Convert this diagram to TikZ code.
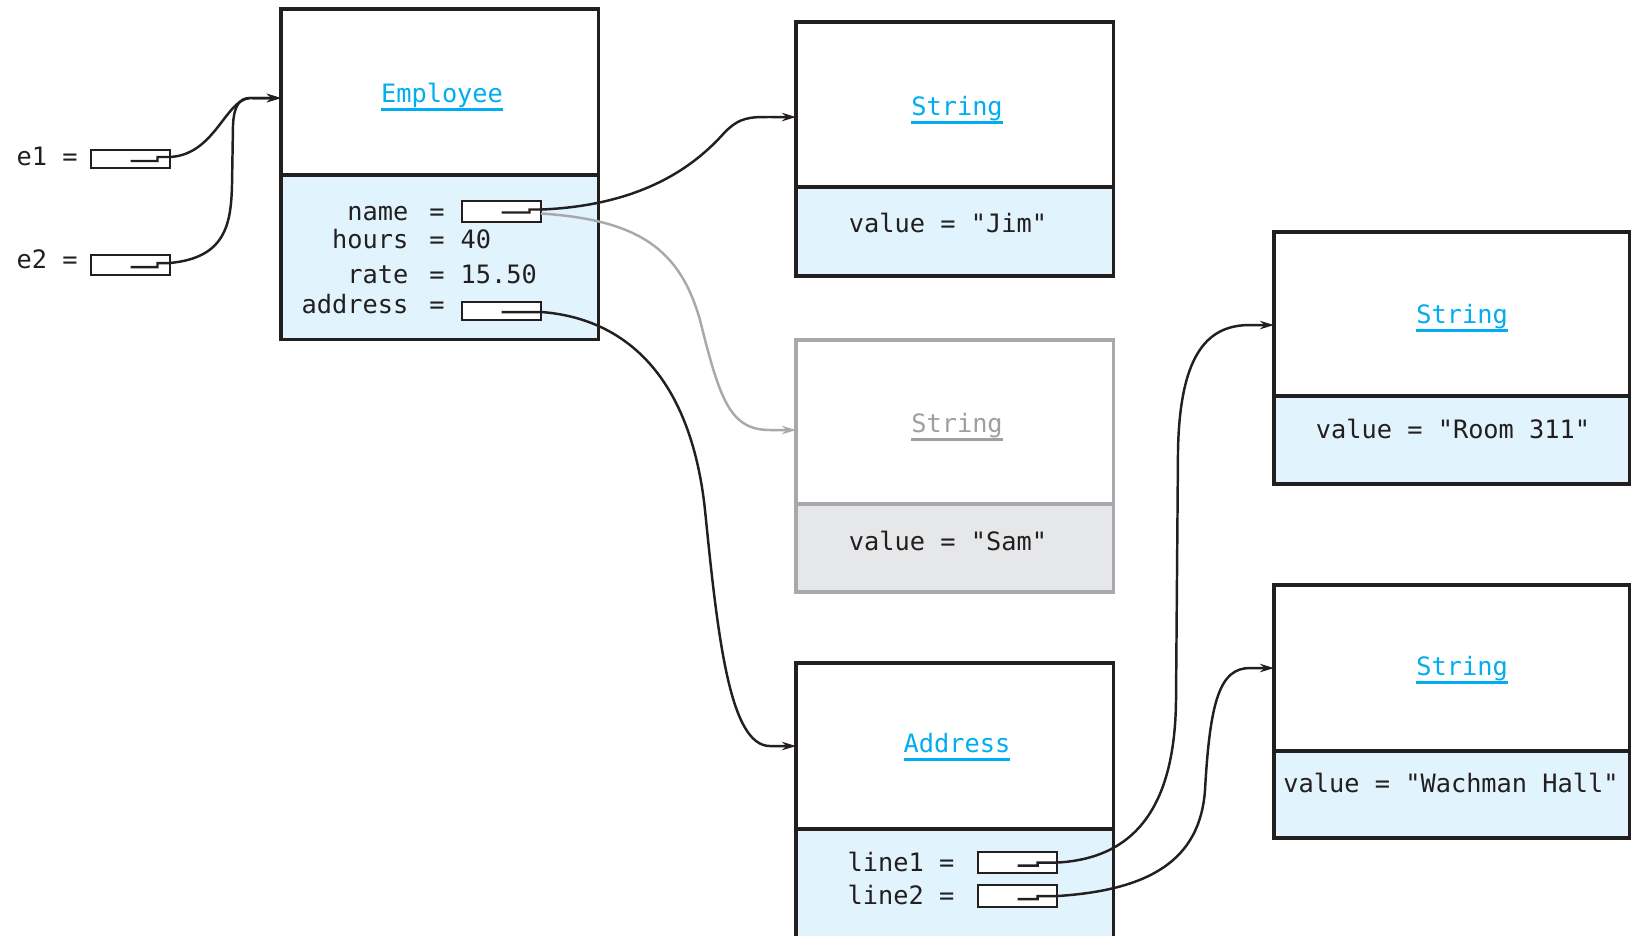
\documentclass[tikz,border=0pt]{standalone}
\usepackage{fontspec}
\newfontfamily\objfont{DejaVu Sans Mono}
\usetikzlibrary{arrows.meta,calc}
\definecolor{ink}{HTML}{231F20}
\definecolor{fieldblue}{HTML}{E1F3FD}
\definecolor{classcyan}{HTML}{00AEEF}
\definecolor{ghost}{HTML}{A7A9AC}
\definecolor{ghostfill}{HTML}{E6E7E8}
\definecolor{ghosttext}{HTML}{9D9FA2}
% class name with a rule underneath at a fixed depth
\newcommand\classname[1]{\vtop{\hbox{\vphantom{gy}#1}\kern0.2pt\hrule height 0.8pt}}
\begin{document}
\begin{tikzpicture}[x=0.01cm, y=-0.01cm,
  font=\objfont\fontsize{7.2}{8.6}\selectfont,
  objtop/.style={draw=ink, fill=white, line width=0.9pt, inner sep=0pt, outer sep=0pt, anchor=north west},
  objbot/.style={objtop, fill=fieldblue},
  oldtop/.style={objtop, draw=ghost},
  oldbot/.style={objtop, draw=ghost, fill=ghostfill},
  refbox/.style={draw=ink, fill=white, line width=0.8pt, minimum width=0.79cm, minimum height=0.2cm, inner sep=0pt, outer sep=0pt},
  txt/.style={inner sep=0pt, anchor=base, text=ink},
  txtr/.style={txt, anchor=base east},
  txtl/.style={txt, anchor=base west},
  title/.style={txt, text=classcyan},
  oldtitle/.style={txt, text=ghosttext},
  link/.style={draw=ink, line width=0.7pt, -{Stealth[length=4pt,width=2.4pt]}},
  oldlink/.style={link, draw=ghost}]

\useasboundingbox (0,0) rectangle (1631,935);
\clip (0,0) rectangle (1631,935);

% ---------- Employee object ----------
\node[objtop, minimum width=3.17cm, minimum height=1.66cm] (emptop) at (281,9) {};
\node[objbot, minimum width=3.17cm, minimum height=1.64cm] (empbot) at (281,175) {};
\node[title] (emptitle) at (442,102) {\classname{Employee}};
\node[txtr] (fname) at (409,220) {name};
\node[txt]  (eqname) at (437,220) {=};
\node[txtr] (fhours) at (409,248) {hours};
\node[txt]  (eqhours) at (437,248) {=};
\node[txtl] (vhours) at (460,248) {40};
\node[txtr] (frate) at (409,283) {rate};
\node[txt]  (eqrate) at (437,283) {=};
\node[txtl] (vrate) at (460,283) {15.50};
\node[txtr] (faddr) at (409,313) {address};
\node[txt]  (eqaddr) at (437,313) {=};
\node[refbox, minimum height=0.21cm] (nameb) at (501.5,211.5) {};
\node[refbox, minimum height=0.18cm] (addrb) at (501.5,311) {};

% ---------- references e1, e2 ----------
\node[txtl] (e1lab) at (16,165) {e1 =};
\node[txtl] (e2lab) at (16,268) {e2 =};
\node[refbox, minimum height=0.18cm] (e1b) at (130.5,159) {};
\node[refbox, minimum height=0.20cm] (e2b) at (130.5,265) {};

% ---------- String "Jim" ----------
\node[objtop, minimum width=3.17cm, minimum height=1.65cm] (jimtop) at (796,22) {};
\node[objbot, minimum width=3.17cm, minimum height=0.89cm] (jimbot) at (796,187) {};
\node[title] (jimtitle) at (957,115) {\classname{String}};
\node[txt] (jimval) at (948,232) {value = "Jim"};

% ---------- String "Sam" (no longer referenced) ----------
\node[oldtop, minimum width=3.17cm, minimum height=1.64cm] (samtop) at (796,340) {};
\node[oldbot, minimum width=3.17cm, minimum height=0.88cm] (sambot) at (796,504) {};
\node[oldtitle] (samtitle) at (957,432) {\classname{String}};
\node[txt] (samval) at (948,550) {value = "Sam"};

% ---------- Address object ----------
\node[objtop, minimum width=3.17cm, minimum height=1.66cm] (addrtop) at (796,663) {};
\node[objbot, minimum width=3.17cm, minimum height=1.40cm] (addrbot) at (796,829) {};
\node[title] (addrtitle) at (957,752) {\classname{Address}};
\node[txtr] (fline1) at (955,871) {line1 =};
\node[txtr] (fline2) at (955,904) {line2 =};
\node[refbox, minimum height=0.21cm] (l1b) at (1017.5,862.5) {};
\node[refbox, minimum height=0.22cm] (l2b) at (1017.5,896) {};

% ---------- String "Room 311" ----------
\node[objtop, minimum width=3.55cm, minimum height=1.64cm] (roomtop) at (1274,232) {};
\node[objbot, minimum width=3.55cm, minimum height=0.88cm] (roombot) at (1274,396) {};
\node[title] (roomtitle) at (1462,323) {\classname{String}};
\node[txt] (roomval) at (1453,438) {value = "Room 311"};

% ---------- String "Wachman Hall" ----------
\node[objtop, minimum width=3.55cm, minimum height=1.66cm] (wachtop) at (1274,585) {};
\node[objbot, minimum width=3.55cm, minimum height=0.87cm] (wachbot) at (1274,751) {};
\node[title] (wachtitle) at (1462,675) {\classname{String}};
\node[txt] (wachval) at (1451,792) {value = "Wachman Hall"};

% ---------- arrow targets ----------
\coordinate (empin)  at ($(emptop.west)+(0,6)$);
\coordinate (jimin)  at ($(jimtop.west)+(0,12.5)$);
\coordinate (samin)  at ($(samtop.west)+(0,8)$);
\coordinate (addrin) at (addrtop.west);
\coordinate (roomin) at ($(roomtop.west)+(0,11)$);
\coordinate (wachin) at (wachtop.west);

% ---------- references ----------
\draw[link] ($(e1b.center)+(0,2)$) -- ++(27,0) -- ++(0,-4) -- ++(12,0)
  .. controls (215,155) and (225,100) .. (250,98) -- (empin);
\draw[link] ($(e2b.center)+(0,2)$) -- ++(27,0) -- ++(0,-4) -- ++(12,0)
  .. controls (225,258) and (231,225) .. (232,185) -- (233,125)
  .. controls (234,105) and (240,98) .. (250,98) -- (empin);

\draw[oldlink] ($(nameb.east)+(0,2)$)
  .. controls (640,220) and (680,250) .. (700,320)
  .. controls (720,400) and (730,430) .. (770,430) -- (samin);
\draw[link] ($(nameb.center)+(0,1)$) -- ++(28,0) -- ++(0,-3) -- ++(12,0)
  .. controls (650,205) and (700,160) .. (725,132)
  .. controls (740,117) and (750,117) .. (770,117) -- (jimin);

\draw[link] ($(addrb.center)+(0,1)$) -- ++(40,0)
  .. controls (620,318) and (690,370) .. (705,510)
  .. controls (718,640) and (730,746) .. (770,746) -- (addrin);

\draw[link] ($(l1b.center)+(0,3)$) -- ++(20,0) -- ++(0,-3) -- ++(20,0)
  .. controls (1140,858) and (1175,800) .. (1176,700) -- (1178,450)
  .. controls (1180,350) and (1210,325) .. (1250,325) -- (roomin);
\draw[link] ($(l2b.center)+(0,3)$) -- ++(20,0) -- ++(0,-3) -- ++(20,0)
  .. controls (1150,890) and (1200,860) .. (1205,790)
  .. controls (1210,700) and (1220,668) .. (1250,668) -- (wachin);

\end{tikzpicture}
\end{document}
